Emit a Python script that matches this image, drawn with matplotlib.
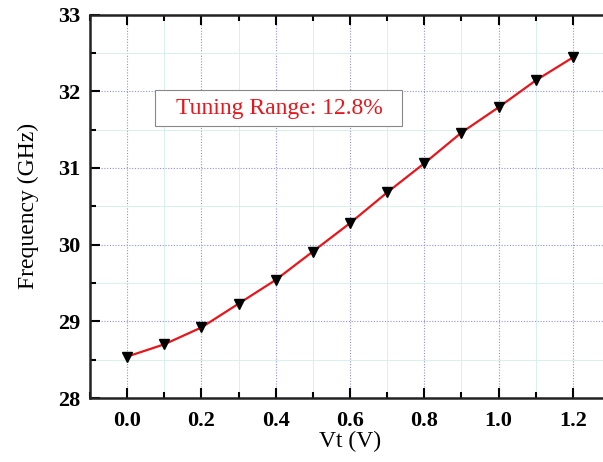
import matplotlib.pyplot as plt
from matplotlib.ticker import MultipleLocator
from matplotlib.patches import Rectangle

# tuning voltage (V) and measured oscillation frequency (GHz)
vt = [0.0, 0.1, 0.2, 0.3, 0.4, 0.5, 0.6, 0.7, 0.8, 0.9, 1.0, 1.1, 1.2]
freq = [28.54, 28.70, 28.92, 29.23, 29.54, 29.91, 30.28, 30.68, 31.06, 31.46, 31.79, 32.14, 32.44]
xtick_vals = [0.0, 0.2, 0.4, 0.6, 0.8, 1.0, 1.2]
xtick_labels = ['0.0', '0.2', '0.4', '0.6', '0.8', '1.0', '1.2']
note = 'Tuning Range: 12.8%'

plt.rcParams['font.family'] = ['Liberation Serif', 'DejaVu Serif']

fig = plt.figure(figsize=(6.03, 4.62), dpi=100)
# right spine sits just past the edge of the picture, as in the original crop
ax = fig.add_axes([0.1493, 0.1385, 0.8623, 0.8301])

ax.plot(vt, freq, color='#e8151b', lw=1.6, marker='v', markersize=7,
        markerfacecolor='black', markeredgecolor='black', zorder=3)

ax.set_xlim(-0.1, 1.3)
ax.set_ylim(28, 33)
ax.xaxis.set_minor_locator(MultipleLocator(0.1))
ax.yaxis.set_major_locator(MultipleLocator(1))
ax.yaxis.set_minor_locator(MultipleLocator(0.5))
ax.set_xticks(xtick_vals)
ax.set_xticklabels(xtick_labels)

ax.grid(which='major', color='#9090e0', linestyle=(0, (1, 1.5)), lw=0.8)
ax.grid(which='minor', color='#d2efe9', linestyle='-', lw=0.6)
ax.set_axisbelow(True)

ax.tick_params(which='both', direction='in', top=True, right=False, width=1.5)
ax.tick_params(which='major', length=7)
ax.tick_params(which='minor', length=4)
for lab in ax.get_xticklabels() + ax.get_yticklabels():
    lab.set_fontweight('bold')
    lab.set_fontsize(16)
ax.tick_params(axis='x', pad=9)
ax.tick_params(axis='y', pad=7)
for s in ax.spines.values():
    s.set_linewidth(1.8)
    s.set_color('#222222')

ax.set_xlabel('Vt (V)', fontsize=17, labelpad=0)
ax.set_ylabel('Frequency (GHz)', fontsize=17, labelpad=14)

# annotation box
ax.add_patch(Rectangle((0.0745, 31.54), 0.6665, 0.48, facecolor='white',
                       edgecolor='#888888', lw=0.8, zorder=4))
ax.text(0.41, 31.78, note, color='#e8151b', fontsize=17,
        va='center', ha='center', zorder=5)

fig.savefig('out.png', dpi=100)
